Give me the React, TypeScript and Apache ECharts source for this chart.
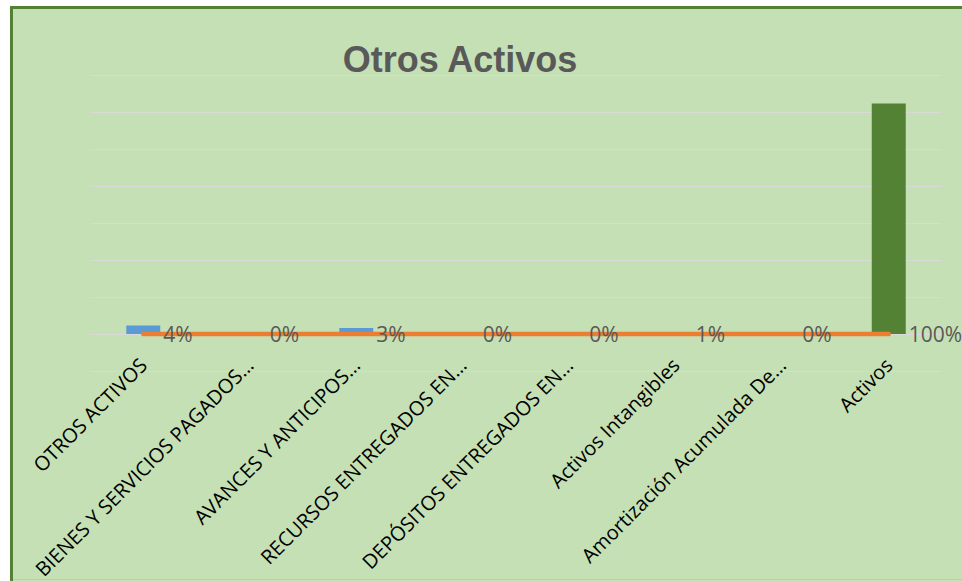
import React, { useEffect, useRef } from 'react';
import * as echarts from 'echarts';

const chartTitle = 'Otros Activos';
const categories = [
  'OTROS ACTIVOS',
  'BIENES Y SERVICIOS PAGADOS…',
  'AVANCES Y ANTICIPOS…',
  'RECURSOS ENTREGADOS EN…',
  'DEPÓSITOS ENTREGADOS EN…',
  'Activos Intangibles',
  'Amortización Acumulada De…',
  'Activos',
];
const amounts = [230000, 0, 160000, 0, 0, 55000, 0, 6230000];
const shares = [0.04, 0, 0.03, 0, 0, 0.01, 0, 1];
const axisMin = -1000000;
const axisMax = 7000000;
const axisStep = 1000000;

export default function App() {
  const ref = useRef<HTMLDivElement>(null);
  useEffect(() => {
    if (!ref.current) return;
    const chart = echarts.init(ref.current, undefined, { renderer: 'svg' });
    const lastIdx = categories.length - 1;
    chart.setOption({
      animation: false,
      backgroundColor: '#C5E0B4',
      graphic: [
        { type: 'rect', shape: { x: 0, y: 0, width: 10, height: 581 }, style: { fill: '#ffffff' }, silent: true },
        { type: 'rect', shape: { x: 0, y: 0, width: 962, height: 6 }, style: { fill: '#ffffff' }, silent: true },
        { type: 'rect', shape: { x: 10, y: 6, width: 3, height: 575 }, style: { fill: '#548235' }, silent: true },
        { type: 'rect', shape: { x: 10, y: 6, width: 952, height: 3 }, style: { fill: '#548235' }, silent: true },
        { type: 'rect', shape: { x: 13, y: 579, width: 949, height: 1 }, style: { fill: '#B4D3A0' }, silent: true },
        {
          type: 'text',
          x: 460,
          y: 59,
          style: {
            text: chartTitle,
            align: 'center',
            verticalAlign: 'middle',
            fontFamily: '"Liberation Sans", Arial, sans-serif',
            fontWeight: 'bold',
            fontSize: 36,
            fill: '#595959',
          },
        },
      ],
      grid: { left: 90, right: 20, top: 75, bottom: 210, containLabel: false, outerBoundsMode: 'none' },
      xAxis: {
        type: 'category',
        data: categories,
        offset: -37.5,
        axisTick: { show: false },
        axisLine: { show: false, onZero: false },
        axisLabel: {
          interval: 0,
          rotate: 45,
          margin: 28,
          fontSize: 20,
          fontFamily: '"Open Sans", sans-serif',
          color: '#000000',
        },
      },
      yAxis: {
        type: 'value',
        min: axisMin,
        max: axisMax,
        interval: axisStep,
        axisLabel: { show: false },
        axisLine: { show: false },
        axisTick: { show: false },
        splitLine: { lineStyle: { color: '#D9D9D9', width: 1 } },
      },
      series: [
        {
          type: 'bar',
          data: amounts,
          barWidth: 34,
          itemStyle: {
            color: (p: any) => (p.dataIndex === lastIdx ? '#548235' : '#5B9BD5'),
          },
          z: 2,
        },
        {
          type: 'line',
          data: shares,
          showSymbol: true,
          symbol: 'circle',
          symbolSize: 0,
          lineStyle: { color: '#ED7D31', width: 4.5, cap: 'round' },
          itemStyle: { color: '#ED7D31' },
          label: {
            show: true,
            position: 'right',
            distance: 20,
            formatter: (p: any) => Math.round(p.value * 100) + '%',
            fontSize: 21,
            fontFamily: '"Open Sans", sans-serif',
            color: '#595959',
          },
          z: 3,
        },
      ],
    });
    return () => chart.dispose();
  }, []);
  return (
    <div
      ref={ref}
      style={{ position: 'absolute', left: 0, top: 0, width: 962, height: 581 }}
    />
  );
}
